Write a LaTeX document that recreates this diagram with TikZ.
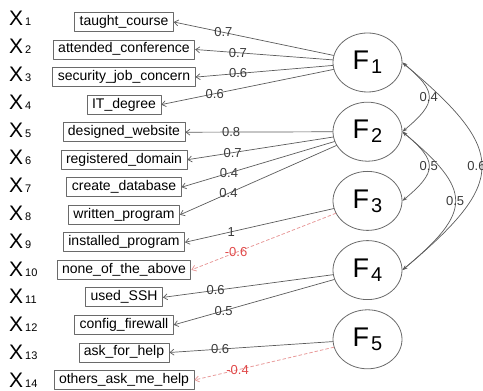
\documentclass[tikz,border=0pt]{standalone}
\usepackage{fontspec}
\setmainfont{Liberation Sans}
\usepackage{xcolor}
\usetikzlibrary{arrows.meta,shapes.geometric}
\definecolor{boxgray}{HTML}{6A6A6A}
\definecolor{edgegray}{HTML}{5C5C5C}
\definecolor{labgray}{HTML}{3A3A3A}
\definecolor{negred}{HTML}{E89A9A}
\definecolor{negtext}{HTML}{E04848}
\tikzset{
    manifest/.style={draw=boxgray,line width=0.8pt,inner xsep=5pt,inner ysep=0pt,minimum height=19pt,text height=10pt,text depth=3pt,font=\fontsize{14}{16}\selectfont},
    latent/.style={ellipse,draw=boxgray,line width=0.8pt,minimum width=69pt,minimum height=59pt,inner sep=0pt,font=\fontsize{27}{30}\selectfont},
    xlab/.style={anchor=base west,inner sep=0pt,font=\fontsize{21}{24}\selectfont},
    load/.style={draw=edgegray,line width=0.7pt,-{Straight Barb[length=4pt,width=6pt]}},
    negload/.style={draw=negred,line width=0.8pt,dash pattern=on 3pt off 2.5pt,-{Straight Barb[length=4pt,width=6pt]}},
    cov/.style={draw=edgegray,line width=0.7pt,{Stealth[length=5pt,width=3.5pt]}-{Stealth[length=5pt,width=3.5pt]},out=-40,in=40,looseness=1.7},
    wt/.style={pos=0.69,inner sep=0.5pt,font=\fontsize{13}{13}\selectfont,text=labgray},
    negwt/.style={wt,text=negtext},
    covwt/.style={pos=0.5,inner sep=0.5pt,font=\fontsize{13}{13}\selectfont,text=labgray}
}
\newcommand{\xsub}[1]{X\hspace{2pt}{\fontsize{11}{11}\selectfont #1}}
\newcommand{\fsub}[1]{F\hspace{2pt}{\fontsize{20}{20}\selectfont\raisebox{-4pt}{#1}}}
\begin{document}
\begin{tikzpicture}[line cap=round,line join=round,x=1pt,y=1pt]
    \useasboundingbox (0,0) rectangle (483,391);
    % item labels
    \node[xlab] (x1) at (9,365.0) {\xsub{1}};
    \node[xlab] (x2) at (9,337.2) {\xsub{2}};
    \node[xlab] (x3) at (9,309.4) {\xsub{3}};
    \node[xlab] (x4) at (9,281.6) {\xsub{4}};
    \node[xlab] (x5) at (9,253.8) {\xsub{5}};
    \node[xlab] (x6) at (9,226.0) {\xsub{6}};
    \node[xlab] (x7) at (9,198.2) {\xsub{7}};
    \node[xlab] (x8) at (9,170.4) {\xsub{8}};
    \node[xlab] (x9) at (9,142.6) {\xsub{9}};
    \node[xlab] (x10) at (9,114.8) {\xsub{10}};
    \node[xlab] (x11) at (9,87.0) {\xsub{11}};
    \node[xlab] (x12) at (9,59.2) {\xsub{12}};
    \node[xlab] (x13) at (9,31.4) {\xsub{13}};
    \node[xlab] (x14) at (9,3.6) {\xsub{14}};
    % observed variables
    \node[manifest] (tc) at (124,369.0) {taught\_course};
    \node[manifest] (ac) at (124,341.5) {attended\_conference};
    \node[manifest] (sjc) at (124,313.9) {security\_job\_concern};
    \node[manifest] (itd) at (124,286.4) {IT\_degree};
    \node[manifest] (dw) at (124,258.8) {designed\_website};
    \node[manifest] (rd) at (124,231.3) {registered\_domain};
    \node[manifest] (cdb) at (124,203.8) {create\_database};
    \node[manifest] (wp) at (124,176.2) {written\_program};
    \node[manifest] (ip) at (124,148.7) {installed\_program};
    \node[manifest] (nota) at (124,121.1) {none\_of\_the\_above};
    \node[manifest] (ssh) at (124,93.6) {used\_SSH};
    \node[manifest] (fw) at (124,66.1) {config\_firewall};
    \node[manifest] (afh) at (124,38.5) {ask\_for\_help};
    \node[manifest] (oamh) at (124,11.0) {others\_ask\_me\_help};
    % factors
    \node[latent] (F1) at (367.5,328.5) {\fsub{1}};
    \node[latent] (F2) at (367.5,259.3) {\fsub{2}};
    \node[latent] (F3) at (367.5,190.1) {\fsub{3}};
    \node[latent] (F4) at (367.5,120.9) {\fsub{4}};
    \node[latent] (F5) at (367.5,51.7) {\fsub{5}};
    % loadings
    \draw[load] (F1) -- node[wt] {0.7} (tc.east);
    \draw[load] (F1) -- node[wt] {0.7} (ac.east);
    \draw[load] (F1) -- node[wt] {0.6} (sjc.east);
    \draw[load] (F1) -- node[wt] {0.6} (itd.east);
    \draw[load] (F2) -- node[wt] {0.8} (dw.east);
    \draw[load] (F2) -- node[wt] {0.7} (rd.east);
    \draw[load] (F2) -- node[wt] {0.4} (cdb.east);
    \draw[load] (F2) -- node[wt] {0.4} (wp.east);
    \draw[load] (F3) -- node[wt] {1} (ip.east);
    \draw[negload] (F3) -- node[negwt] {-0.6} (nota.east);
    \draw[load] (F4) -- node[wt] {0.6} (ssh.east);
    \draw[load] (F4) -- node[wt] {0.5} (fw.east);
    \draw[load] (F5) -- node[wt] {0.6} (afh.east);
    \draw[negload] (F5) -- node[negwt] {-0.4} (oamh.east);
    % factor covariances
    \draw[cov] (F1.east) to node[covwt] {0.4} (F2.east);
    \draw[cov] (F2.east) to node[covwt] {0.5} (F3.east);
    \draw[cov] (F2.east) to node[covwt] {0.5} (F4.east);
    \draw[cov] (F1.east) to node[covwt,xshift=-5pt] {0.6} (F4.east);
\end{tikzpicture}
\end{document}
